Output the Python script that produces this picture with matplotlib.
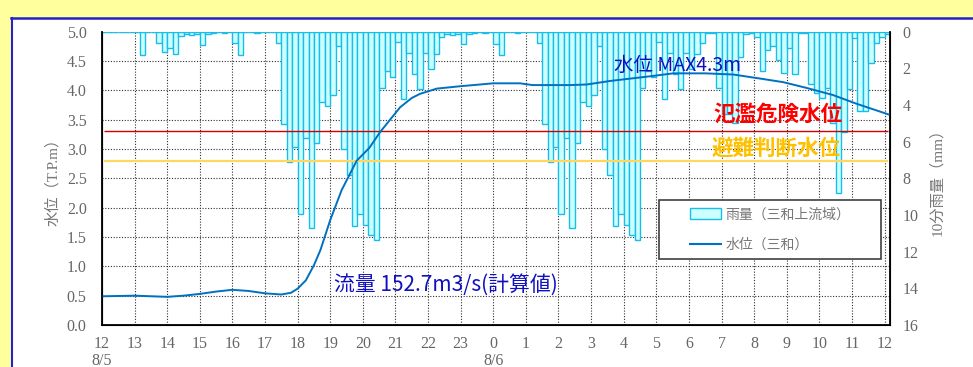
import numpy as np
import matplotlib.pyplot as plt
from matplotlib.patches import Rectangle, Patch
from matplotlib.lines import Line2D

plt.rcParams['font.family'] = ['Liberation Serif', 'Noto Sans CJK JP']
jp = ['Noto Sans CJK JP', 'DejaVu Sans']

# 10-min rainfall (mm), from 8/5 12:00, one value per 10 minutes
rain = [
    0, 0, 0, 0, 0, 0, 0, 1.26, 0, 0, 0.63, 1.12,
    0.9, 1.2, 0.25, 0.1, 0.17, 0.1, 0.7, 0.1, 0.05, 0, 0.05, 0,
    0.63, 1.26, 0, 0, 0.05, 0, 0, 0, 0.63, 5.04, 7.1, 6.3,
    9.96, 5.8, 10.7, 6.08, 3.86, 4.08, 3.44, 0.8, 6.39, 7.82, 10.6, 9.95,
    10.55, 11.1, 11.36, 3.08, 2.13, 2.46, 0.54, 3.68, 1.17, 2.3, 3.13, 1.14,
    2.04, 1.19, 0.27, 0.1, 0.17, 0.1, 0.68, 0.1, 0.05, 0, 0.05, 0,
    0.65, 1.26, 0, 0, 0.05, 0, 0, 0, 0.63, 5.04, 7.1, 6.3,
    9.96, 5.8, 10.7, 6.08, 3.86, 4.08, 3.44, 0.8, 6.39, 7.82, 10.6, 9.95,
    10.55, 11.1, 11.36, 3.08, 2.13, 2.46, 0.54, 3.68, 1.17, 2.3, 3.13, 1.14,
    2.04, 1.19, 0.63, 0.08, 0.08, 3.08, 4.5, 4.5, 5.0, 1.4, 0.1, 0.05,
    0.3, 2.17, 1.0, 0.8, 1.57, 2.23, 0.9, 2.3, 0.05, 0.05, 2.86, 3.35,
    3.62, 3.08, 4.99, 8.8, 5.48, 3.13, 0.35, 4.35, 4.35, 1.7, 0.63, 0.27,
    0.1,
]
rain_t = np.arange(len(rain)) / 6.0

# water level (T.P.m), hours since 8/5 12:00
level_t = [0.05, 1.0, 2.0, 2.5, 3.0, 3.5, 4.0, 4.5, 5.0, 5.5, 5.8, 6.0, 6.25, 6.5,
           6.7, 7.0, 7.35, 7.81, 8.2, 8.53, 9.14, 9.5, 9.75, 10.27, 10.98, 12.0,
           12.82, 13.2, 14.36, 14.87, 15.58, 16.81, 17.52, 18.5, 19.36, 20.08,
           20.89, 21.62, 22.42, 23.15, 24.12]
level_m = [0.49, 0.50, 0.48, 0.50, 0.53, 0.57, 0.60, 0.58, 0.54, 0.52, 0.55, 0.62,
           0.76, 1.02, 1.28, 1.79, 2.30, 2.80, 3.02, 3.29, 3.71, 3.87, 3.94, 4.03,
           4.07, 4.12, 4.12, 4.09, 4.09, 4.10, 4.16, 4.24, 4.29, 4.29, 4.27, 4.21,
           4.14, 4.04, 3.92, 3.77, 3.59]

danger_level = 3.3
evac_level = 2.8

hours = [12, 13, 14, 15, 16, 17, 18, 19, 20, 21, 22, 23,
         0, 1, 2, 3, 4, 5, 6, 7, 8, 9, 10, 11, 12]
xlabels = [str(h) for h in hours]
xlabels[0] += '\n8/5'
xlabels[12] += '\n8/6'

grey = '#666666'

fig = plt.figure(figsize=(9.73, 3.67), dpi=100)
fig.patch.set_facecolor('#FFFF9E')
fig.add_artist(Rectangle((12 / 973, 0), 1, 349 / 367, transform=fig.transFigure,
                         facecolor='white', edgecolor='none', zorder=0))
fig.add_artist(Line2D([11 / 973, 1], [349.5 / 367] * 2, transform=fig.transFigure,
                      color='#2323C8', lw=1.8))
fig.add_artist(Line2D([11.5 / 973] * 2, [0, 349.5 / 367], transform=fig.transFigure,
                      color='#2323C8', lw=1.5))

ax = fig.add_axes([102 / 973, 42 / 367, 788 / 973, 293.3 / 367])
ax.set_xlim(0, 24 + 1 / 6)
ax.set_ylim(0, 5)
ax.set_yticks(np.arange(0, 5.01, 0.5))
ax.set_yticklabels([f'{v:.1f}' for v in np.arange(0, 5.01, 0.5)])
ax.set_xticks(range(25))
ax.set_xticklabels(xlabels, linespacing=1.05)
ax.grid(True, color='#303030', linestyle=(0, (1, 1.5)), lw=0.8)
ax.tick_params(length=0, labelsize=11.5, labelcolor=grey)
ax.tick_params(axis='y', pad=11)
ax.tick_params(axis='x', pad=8)
ax.spines['top'].set_visible(False)
for s in ['left', 'bottom']:
    ax.spines[s].set_linewidth(1.3)
ax.set_ylabel('水位（T.P.m）', fontsize=11, color='#777777', labelpad=5)

# rainfall bars on the right (inverted) axis
ax2 = ax.twinx()
ax2.bar(rain_t, rain, width=1 / 6, align='edge', facecolor='#CCFFFF',
        edgecolor='#19BDEB', linewidth=1.0)
ax2.set_ylim(16, 0)
ax2.set_yticks(range(0, 17, 2))
ax2.tick_params(length=0, labelsize=11.5, labelcolor=grey, pad=9)
ax2.spines['top'].set_visible(False)
ax2.spines['right'].set_linewidth(1.3)
ax2.set_ylabel('10分雨量（mm）', fontsize=11, color='#777777', labelpad=8)

# water level, thresholds and notes on top
ax3 = ax.twinx()
ax3.set_ylim(0, 5)
ax3.axis('off')
ax3.hlines(danger_level, 0.05, 24.1, color='#D00000', lw=1.0)
ax3.hlines(evac_level, 0.05, 24.1, color='#FFD75E', lw=1.6)
ax3.plot(level_t, level_m, color='#0070C0', lw=1.4)

ax3.text(15.7, 4.42, '水位 MAX4.3m', family=jp, fontsize=14, color='#1010C0',
         ha='left', va='center')
ax3.text(18.74, 3.6, '氾濫危険水位', family=jp, fontsize=15.5, color='#FF0000',
         fontweight='bold', ha='left', va='center')
ax3.text(18.68, 3.01, '避難判断水位', family=jp, fontsize=15.5, color='#FFC000',
         fontweight='bold', ha='left', va='center')
ax3.text(7.12, 0.68, '流量 152.7m3/s(計算値)', family=jp, fontsize=15,
         color='#1010C0', ha='left', va='center')

ax3.add_patch(Rectangle((0.707, 0.225), 0.282, 0.201, transform=ax3.transAxes,
                        facecolor='white', edgecolor='#404040', lw=1.2, zorder=4))
handles = [Patch(facecolor='#CCFFFF', edgecolor='#19BDEB'),
           Line2D([], [], color='#0070C0', lw=1.5)]
ax3.legend(handles, ['雨量（三和上流域）', '水位（三和）'], loc='center',
           bbox_to_anchor=(0.848, 0.3255), frameon=False,
           prop={'family': jp, 'size': 10}, labelcolor='#777777',
           handlelength=2.2, handleheight=0.8, handletextpad=0.3, labelspacing=1.2)

fig.savefig('out.png', dpi=100)
